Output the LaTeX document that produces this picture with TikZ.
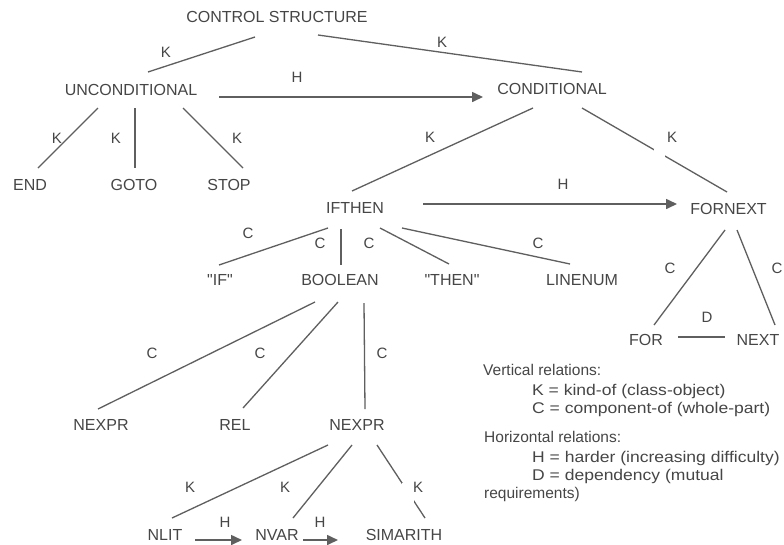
\documentclass[tikz,border=0pt]{standalone}
\usepackage{fontspec}
\setmainfont{Liberation Sans}
\newfontfamily\legwide[FakeStretch=1.13]{Liberation Sans}
\usepackage{tikz}
\usetikzlibrary{arrows.meta,calc}
\definecolor{tGray}{RGB}{70,70,70}
\definecolor{lGray}{RGB}{95,95,95}
\tikzset{
  concept/.style={font=\fontsize{16}{19}\selectfont, text=tGray, inner sep=0pt,
                  text height=11.5pt, text depth=0pt},
  lbl/.style={font=\fontsize{15}{18}\selectfont, text=tGray, inner sep=0pt},
  legend/.style={font=\fontsize{15.5}{18}\selectfont, text=tGray, inner sep=0pt,
                 anchor=base west},
  legitem/.style={legend, font=\legwide\fontsize{15.5}{18}\selectfont},
  rel/.style={draw=lGray, line width=1.3pt},
  harder/.style={rel, line width=1.6pt, -{Triangle[length=11pt,width=10pt]}},
  gap/.style={fill=white, inner sep=0pt},
}
\begin{document}
\begin{tikzpicture}[x=1pt,y=-1pt]
  \useasboundingbox[fill=white] (0,0) rectangle (784,544);

  % concepts
  \node[concept] (cs) at (277,16.5){CONTROL STRUCTURE};
  \node[concept] (uncond) at (131,89.5){UNCONDITIONAL};
  \node[concept] (cond) at (552,88.5){CONDITIONAL};
  \node[concept] (end) at (30,185){END};
  \node[concept] (goto) at (134,185){GOTO};
  \node[concept] (stop) at (229,185){STOP};
  \node[concept] (ifthen) at (355,207.5){IFTHEN};
  \node[concept] (fornext) at (728.5,208.5){FORNEXT};
  \node[concept] (if) at (220,280){\textquotedbl IF\textquotedbl};
  \node[concept] (bool) at (340,280){BOOLEAN};
  \node[concept] (then) at (452,280){\textquotedbl THEN\textquotedbl};
  \node[concept] (linenum) at (582,280){LINENUM};
  \node[concept] (for) at (646,340){FOR};
  \node[concept] (next) at (758,340){NEXT};
  \node[concept] (nexprL) at (101,424.5){NEXPR};
  \node[concept] (rel) at (235,424.5){REL};
  \node[concept] (nexprR) at (357,424.5){NEXPR};
  \node[concept] (nlit) at (165,535){NLIT};
  \node[concept] (nvar) at (277,535){NVAR};
  \node[concept] (simar) at (404,535){SIMARITH};

  % kind-of / component-of links
  \draw[rel] ($(cs)+(-22,20.5)$) -- ($(uncond)+(17,-17.5)$);
  \draw[rel] ($(cs)+(41,18.5)$) -- ($(cond)+(30,-16.5)$);
  \draw[rel] ($(uncond)+(-33,18.5)$) -- ($(end)+(8,-17)$);
  \draw[rel] ($(uncond)+(4,18.5)$) -- ($(goto)+(1,-17)$);
  \draw[rel] ($(uncond)+(52,18.5)$) -- ($(stop)+(14,-17)$);
  \draw[rel] ($(cond)+(-19,19.5)$) -- ($(ifthen)+(-3,-16.5)$);
  \draw[rel] ($(cond)+(30,19.5)$) -- ($(fornext)+(-1.5,-16.5)$);
  \draw[rel] ($(ifthen)+(-27,20.5)$) -- ($(if)+(-1,-15)$);
  \draw[rel] ($(ifthen)+(-14,21.5)$) -- ($(bool)+(1,-15)$);
  \draw[rel] ($(ifthen)+(25,20.5)$) -- ($(then)+(-3,-16)$);
  \draw[rel] ($(ifthen)+(47,20.5)$) -- ($(linenum)+(-12,-16)$);
  \draw[rel] ($(fornext)+(-3.5,21.5)$) -- ($(for)+(8,-15)$);
  \draw[rel] ($(fornext)+(8.5,21.5)$) -- ($(next)+(17,-15)$);
  \draw[rel] ($(bool)+(-25,22)$) -- ($(nexprL)+(-3,-15.5)$);
  \draw[rel] ($(bool)+(-2,22)$) -- ($(rel)+(8,-16.5)$);
  \draw[rel] ($(bool)+(24,23)$) -- ($(nexprR)+(8,-15.5)$);
  \draw[rel] ($(nexprR)+(-29,20.5)$) -- ($(nlit)+(7,-17)$);
  \draw[rel] ($(nexprR)+(-5,20.5)$) -- ($(nvar)+(16,-17)$);
  \draw[rel] ($(nexprR)+(20,20.5)$) -- ($(simar)+(21,-17)$);

  % dependency
  \draw[rel] ($(for)+(32,-3)$) -- ($(next)+(-33,-3)$);

  % harder arrows
  \draw[harder] ($(uncond)+(88,7.5)$) -- ($(cond)+(-69,8.5)$);
  \draw[harder] ($(ifthen)+(68,-3.5)$) -- ($(fornext)+(-51.5,-4.5)$);
  \draw[harder] ($(nlit)+(30,5)$) -- ($(nvar)+(-35,5)$);
  \draw[harder] ($(nvar)+(26,5)$) -- ($(simar)+(-66,5)$);

  % breaks in two links
  \node[gap, minimum width=11pt, minimum height=9pt] (g1) at (659,153){};
  \node[gap, minimum width=12pt, minimum height=22pt] (g2) at (408,493.5){};

  % link labels
  \node[lbl] (k1) at (166,52){K};
  \node[lbl] (k2) at (442,42){K};
  \node[lbl] (h1) at (297,77){H};
  \node[lbl] (k3) at (57,138){K};
  \node[lbl] (k4) at (116,138){K};
  \node[lbl] (k5) at (237,138){K};
  \node[lbl] (k6) at (430,137){K};
  \node[lbl] (k7) at (672,137){K};
  \node[lbl] (h2) at (563,184){H};
  \node[lbl] (c1) at (248,233){C};
  \node[lbl] (c2) at (320,243){C};
  \node[lbl] (c3) at (369,243){C};
  \node[lbl] (c4) at (538,243){C};
  \node[lbl] (c5) at (670,268){C};
  \node[lbl] (c6) at (777,268){C};
  \node[lbl] (d1) at (707,317){D};
  \node[lbl] (c7) at (152,353){C};
  \node[lbl] (c8) at (260,353){C};
  \node[lbl] (c9) at (382,353){C};
  \node[lbl] (k8) at (190,487){K};
  \node[lbl] (k9) at (285,487){K};
  \node[lbl] (k10) at (418,487){K};
  \node[lbl] (h3) at (225,522){H};
  \node[lbl] (h4) at (320,522){H};

  % legend
  \node[legend] (leg1) at (483,375){Vertical relations:};
  \node[legitem] (leg2) at (532,395){K = kind-of (class-object)};
  \node[legitem] (leg3) at (532,413){C = component-of (whole-part)};
  \node[legend] (leg4) at (484,442){Horizontal relations:};
  \node[legitem] (leg5) at (532,462){H = harder (increasing difficulty)};
  \node[legitem] (leg6) at (532,480){D = dependency (mutual};
  \node[legend] (leg7) at (484,498){requirements)};
\end{tikzpicture}
\end{document}
